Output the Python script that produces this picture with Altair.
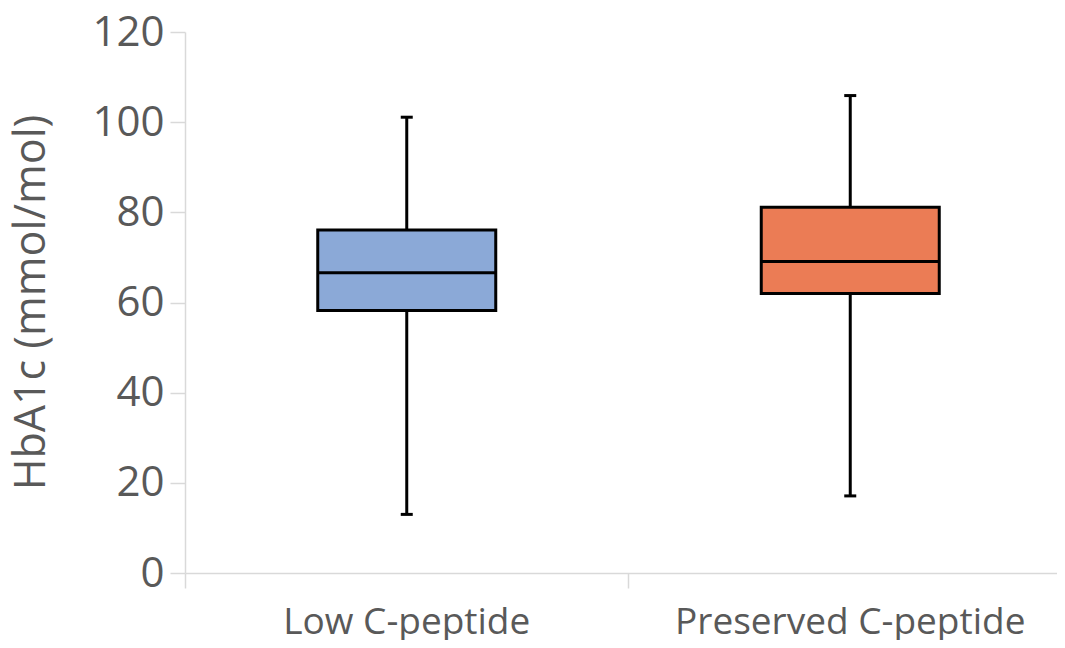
import altair as alt
import pandas as pd

groups = ["Low C-peptide", "Preserved C-peptide"]
whisker_low = [13.0, 17.1]
q1 = [58.2, 62.0]
median = [66.6, 69.1]
q3 = [76.1, 81.1]
whisker_high = [101.1, 105.9]
colors = ["#8BA9D7", "#EB7C55"]

df = pd.DataFrame({
    "group": groups,
    "lo": whisker_low,
    "q1": q1,
    "med": median,
    "q3": q3,
    "hi": whisker_high,
})

FONT = "Open Sans"
GRAY = "#595959"
AXC = "#D9D9D9"

xscale = alt.Scale(domain=groups, range=[0, 887], paddingInner=0, paddingOuter=0)
yscale = alt.Scale(domain=[0, 120], nice=False, zero=True)

y_axis = alt.Axis(
    orient="left",
    values=[0, 20, 40, 60, 80, 100, 120], grid=False,
    domainColor=AXC, domainWidth=1.5, tickColor=AXC, tickWidth=1.5, tickSize=15,
    labelColor=GRAY, labelFont=FONT, labelFontSize=42, labelPadding=6,
    title="HbA1c (mmol/mol)", titleColor=GRAY, titleFont=FONT, titleFontSize=43,
    titleFontWeight="normal", titleX=-132, titleY=270, titleAngle=270,
    titleAlign="center", titleBaseline="bottom",
)

x_axis_ticks = alt.Axis(
    orient="bottom", labels=False, title=None, grid=False, bandPosition=0,
    domainColor=AXC, domainWidth=1.5, tickColor=AXC, tickWidth=1.5, tickSize=15,
)
x_axis_labels = alt.Axis(
    orient="bottom", domain=False, ticks=False, title=None, grid=False, labelAngle=0,
    labelLimit=0, labelColor=GRAY, labelFont=FONT, labelFontSize=37, labelPadding=31,
)

base = alt.Chart(df)

whisker = base.mark_rule(color="black", strokeWidth=3).encode(
    x=alt.X("group:N", sort=groups, scale=xscale, axis=x_axis_ticks),
    y=alt.Y("lo:Q", scale=yscale, axis=y_axis),
    y2="hi:Q",
)

box = base.mark_bar(size=178, stroke="black", strokeWidth=3).encode(
    x=alt.X("group:N", sort=groups, scale=xscale, axis=x_axis_labels),
    y=alt.Y("q1:Q", scale=yscale, axis=y_axis),
    y2="q3:Q",
    color=alt.Color("group:N", scale=alt.Scale(domain=groups, range=colors), legend=None),
)

med = base.mark_tick(size=178, thickness=3, color="black", opacity=1).encode(
    x=alt.X("group:N", sort=groups, scale=xscale, axis=None),
    y=alt.Y("med:Q", scale=yscale, axis=y_axis),
)

cap_hi = base.mark_tick(size=12, thickness=3, color="black", opacity=1).encode(
    x=alt.X("group:N", sort=groups, scale=xscale, axis=None),
    y=alt.Y("hi:Q", scale=yscale, axis=y_axis),
)
cap_lo = base.mark_tick(size=12, thickness=3, color="black", opacity=1).encode(
    x=alt.X("group:N", sort=groups, scale=xscale, axis=None),
    y=alt.Y("lo:Q", scale=yscale, axis=y_axis),
)

chart = alt.layer(whisker, box, med, cap_hi, cap_lo).resolve_axis(
    x="independent"
).resolve_scale(x="shared").properties(
    width=872, height=541,
    padding={"left": 177, "top": 24, "right": 0, "bottom": 67},
    autosize=alt.AutoSizeParams(type="none"),
    background="white",
).configure_view(stroke=None)

chart.save("out.html", embed_options={"renderer": "svg", "actions": False})
